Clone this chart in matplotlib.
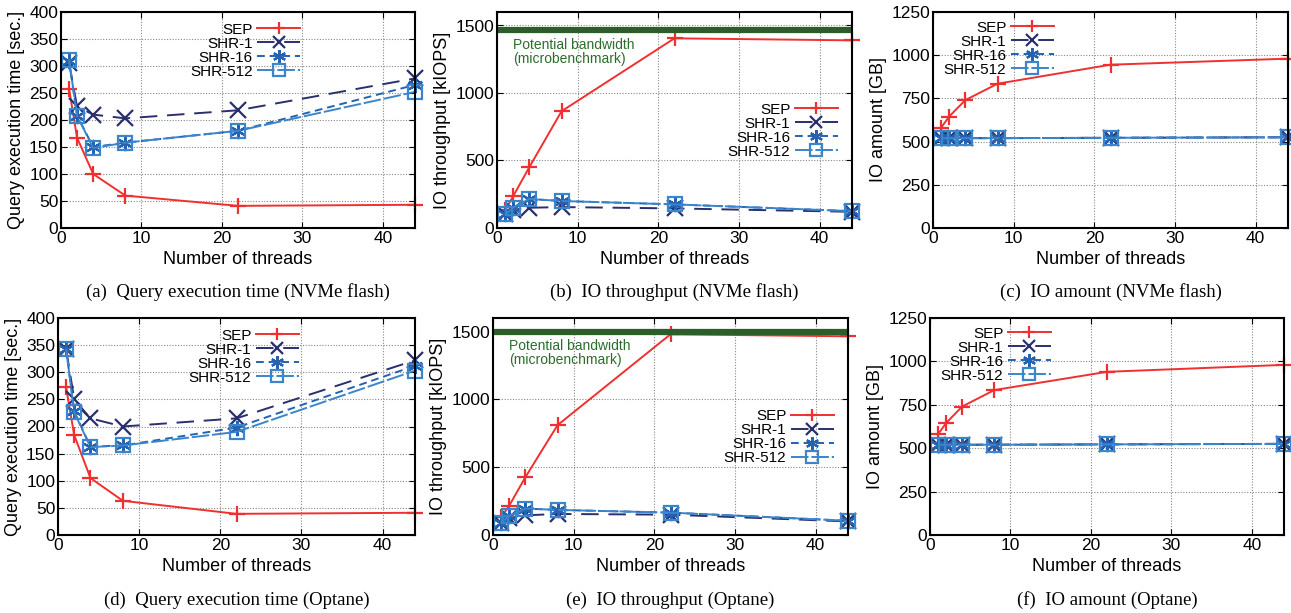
import numpy as np
import matplotlib.pyplot as plt

plt.rcParams['font.family'] = ['Liberation Sans', 'DejaVu Sans']

threads = [1, 2, 4, 8, 22, 44]

# (a) query execution time, NVMe flash
qt_nvme_sep = [258, 167, 100, 60, 41, 43]
qt_nvme_shr1 = [305, 225, 210, 203, 218, 277]
qt_nvme_shr16 = [310, 208, 150, 158, 180, 265]
qt_nvme_shr512 = [312, 208, 148, 158, 180, 252]

# (b) IO throughput, NVMe flash
tp_nvme_sep = [130, 235, 450, 865, 1405, 1390]
tp_nvme_shr1 = [100, 135, 150, 155, 145, 120]
tp_nvme_shr16 = [100, 150, 215, 200, 175, 125]
tp_nvme_shr512 = [100, 150, 215, 200, 175, 125]
bw_nvme = 1465

# (c) IO amount, NVMe flash
io_nvme_sep = [580, 645, 740, 835, 945, 980]
io_nvme_shr1 = [520, 520, 520, 520, 522, 525]
io_nvme_shr16 = [520, 520, 520, 520, 522, 525]
io_nvme_shr512 = [520, 520, 520, 520, 522, 525]

# (d) query execution time, Optane
qt_opt_sep = [272, 184, 105, 63, 39, 41]
qt_opt_shr1 = [343, 250, 215, 200, 215, 322]
qt_opt_shr16 = [343, 228, 163, 165, 198, 312]
qt_opt_shr512 = [343, 226, 162, 165, 190, 303]

# (e) IO throughput, Optane
tp_opt_sep = [130, 215, 425, 810, 1480, 1465]
tp_opt_shr1 = [90, 125, 145, 155, 150, 100]
tp_opt_shr16 = [90, 140, 195, 185, 165, 105]
tp_opt_shr512 = [90, 140, 195, 185, 165, 105]
bw_opt = 1500

# (f) IO amount, Optane
io_opt_sep = [580, 645, 740, 835, 940, 980]
io_opt_shr1 = [520, 520, 520, 520, 522, 525]
io_opt_shr16 = [520, 520, 520, 520, 522, 525]
io_opt_shr512 = [520, 520, 520, 520, 522, 525]

labels = ['SEP', 'SHR-1', 'SHR-16', 'SHR-512']
colors = ['#f03030', '#2a2f6e', '#2563b0', '#3a85cc']
markers = ['+', 'x', (6, 2, 0), 's']
dashes = [None, (9, 5), (4, 2.5), (9, 1.5)]

captions = ['(a)  Query execution time (NVMe flash)',
            '(b)  IO throughput (NVMe flash)',
            '(c)  IO amount (NVMe flash)',
            '(d)  Query execution time (Optane)',
            '(e)  IO throughput (Optane)',
            '(f)  IO amount (Optane)']

fig = plt.figure(figsize=(12.91, 6.13), dpi=100)
W, H = 1291, 613

# axes boxes in pixels: left, top, right, bottom
boxes = [(61, 12, 415, 228), (497, 12, 852, 228), (933, 12, 1288, 228),
         (58, 318, 415, 535), (493, 318, 848, 535), (930, 318, 1284, 535)]
cap_y = [292, 600]


def draw(ax, series, ylim, yticks, ylabel, legend_loc, bw=None):
    for k, ys in enumerate(series):
        kw = dict(color=colors[k], marker=markers[k], markersize=11 if k != 3 else 10,
                  markeredgewidth=1.6, linewidth=1.4, label=labels[k],
                  markerfacecolor='none' if k == 3 else colors[k], clip_on=False)
        line, = ax.plot(threads, ys, **kw)
        if dashes[k] is not None:
            line.set_dashes(dashes[k])
    if bw is not None:
        ax.axhline(bw, color='#2b5e2b', linewidth=4.5)
        ax.text(2, bw - 55, 'Potential bandwidth\n(microbenchmark)', color='#2b6e2b',
                fontsize=10, va='top', ha='left', linespacing=1.0)
    ax.set_xlim(0, 44)
    ax.set_ylim(*ylim)
    ax.set_xticks([0, 10, 20, 30, 40])
    ax.set_yticks(yticks)
    ax.grid(True, linestyle=(0, (1, 1.5)), color='#888888', linewidth=0.8)
    ax.tick_params(direction='in', labelsize=12.5, length=4, top=True, right=True, pad=2)
    ax.set_xlabel('Number of threads', fontsize=13, labelpad=4)
    ax.set_ylabel(ylabel, fontsize=13, labelpad=3)
    for s in ax.spines.values():
        s.set_linewidth(1.5)
    leg = ax.legend(loc=legend_loc, frameon=False, markerfirst=False, fontsize=11,
                    handlelength=2.8, handletextpad=0.3, labelspacing=0.0,
                    borderaxespad=0.3, markerscale=0.85)
    leg._legend_box.align = 'right'


panels = [
    ([qt_nvme_sep, qt_nvme_shr1, qt_nvme_shr16, qt_nvme_shr512], (0, 400),
     range(0, 401, 50), 'Query execution time [sec.]', 'upper center', None),
    ([tp_nvme_sep, tp_nvme_shr1, tp_nvme_shr16, tp_nvme_shr512], (0, 1600),
     [0, 500, 1000, 1500], 'IO throughput [kIOPS]', 'center right', bw_nvme),
    ([io_nvme_sep, io_nvme_shr1, io_nvme_shr16, io_nvme_shr512], (0, 1250),
     range(0, 1251, 250), 'IO amount [GB]', 'upper left', None),
    ([qt_opt_sep, qt_opt_shr1, qt_opt_shr16, qt_opt_shr512], (0, 400),
     range(0, 401, 50), 'Query execution time [sec.]', 'upper center', None),
    ([tp_opt_sep, tp_opt_shr1, tp_opt_shr16, tp_opt_shr512], (0, 1600),
     [0, 500, 1000, 1500], 'IO throughput [kIOPS]', 'center right', bw_opt),
    ([io_opt_sep, io_opt_shr1, io_opt_shr16, io_opt_shr512], (0, 1250),
     range(0, 1251, 250), 'IO amount [GB]', 'upper left', None),
]

for i, (series, ylim, yticks, ylabel, loc, bw) in enumerate(panels):
    l, t, r, b = boxes[i]
    ax = fig.add_axes([l / W, 1 - b / H, (r - l) / W, (b - t) / H])
    draw(ax, series, ylim, yticks, ylabel, loc, bw)
    leg = ax.get_legend()
    if i % 3 == 1:
        # legend sits a bit lower than the centre in the throughput panels
        leg.set_bbox_to_anchor((0.99, 0.45), transform=ax.transAxes)
    if i % 3 == 0:
        leg.set_bbox_to_anchor((0.52, 1.0), transform=ax.transAxes)
    if i % 3 == 2:
        leg.set_bbox_to_anchor((0.0, 1.01), transform=ax.transAxes)
    cx = (l + r) / 2
    fig.text(cx / W, 1 - cap_y[i // 3] / H, captions[i], ha='center', va='center',
             fontsize=13.5, family='Liberation Serif')

fig.savefig('out.png', dpi=100)
